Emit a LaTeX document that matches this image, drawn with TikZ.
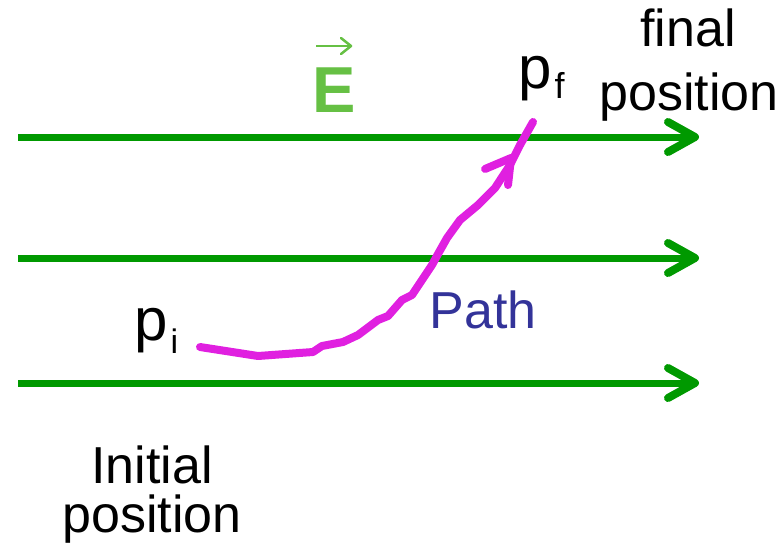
\documentclass[tikz,border=0pt]{standalone}
\usepackage{fontspec}
\setmainfont{Liberation Sans}
\usetikzlibrary{arrows.meta}
\definecolor{fieldgreen}{HTML}{009900}
\definecolor{egreen}{HTML}{66C044}
\definecolor{pathmag}{HTML}{E020E0}
\definecolor{pathblue}{HTML}{333399}
\tikzset{
  fieldline/.style={fieldgreen, line width=7pt},
  fieldhead/.style={fieldgreen, line width=8pt, line cap=round, line join=round},
  lbl/.style={font=\fontsize{52}{58}\selectfont, inner sep=0pt, anchor=base},
  plbl/.style={font=\fontsize{60}{66}\selectfont, inner sep=0pt, anchor=base west},
  pathline/.style={pathmag, line width=8pt, line cap=round, line join=round},
}
\begin{document}
\begin{tikzpicture}[x=1pt,y=-1pt]
\useasboundingbox (0,0) rectangle (782,552);
% field lines
\foreach \yy/\nm in {137/a,258/b,383/c}{
  \coordinate (s\nm) at (18,\yy);
  \coordinate (t\nm) at (695,\yy);
  \draw[fieldline] (s\nm) -- ([xshift=-4pt]t\nm);
  \draw[fieldhead] ([shift={(-27,-15)}]t\nm) -- (t\nm) -- ([shift={(-27,15)}]t\nm);
}
% E label
\node[lbl, text=egreen, font=\fontsize{65}{70}\selectfont\bfseries] (E) at (334,112) {E};
\coordinate (ea) at (316,46);
\coordinate (eb) at (351,46);
\draw[egreen, line width=2.5pt] (ea) -- (eb);
\draw[egreen, line width=2.5pt, line cap=round, line join=round] ([shift={(-10,-8)}]eb) -- (eb) -- ([shift={(-10,8)}]eb);
% labels
\node[lbl] (final) at (688,46) {final};
\node[lbl] (finpos) at (689,110) {position};
\node[plbl] (pf) at (518,88) {p\kern3pt\raisebox{-10pt}{\fontsize{36}{40}\selectfont f}};
\node[plbl] (pi) at (134,340) {p\kern3pt\raisebox{-13pt}{\fontsize{34}{38}\selectfont i}};
\node[lbl] (init) at (152,483) {Initial};
\node[lbl] (inipos) at (152,532) {position};
\node[lbl, text=pathblue] (pathlbl) at (483,328) {Path};
% path
\coordinate (p0) at (200,347);
\coordinate (pend) at (533,122);
\draw[pathline] (p0) -- (258,356) -- (313,352) -- (322,346) -- (343,342) -- (358,335) -- (378,320) -- (388,316) -- (402,300) -- (412,295) -- (420,283) -- (432,265) -- (438,254) -- (447,238) -- (460,220) -- (478,205) -- (495,188) -- (510,165) -- (520,145) -- (pend);
\coordinate (ptip) at (511,158);
\draw[pathline] (485,169) -- (ptip) -- (508,185);
\end{tikzpicture}
\end{document}
